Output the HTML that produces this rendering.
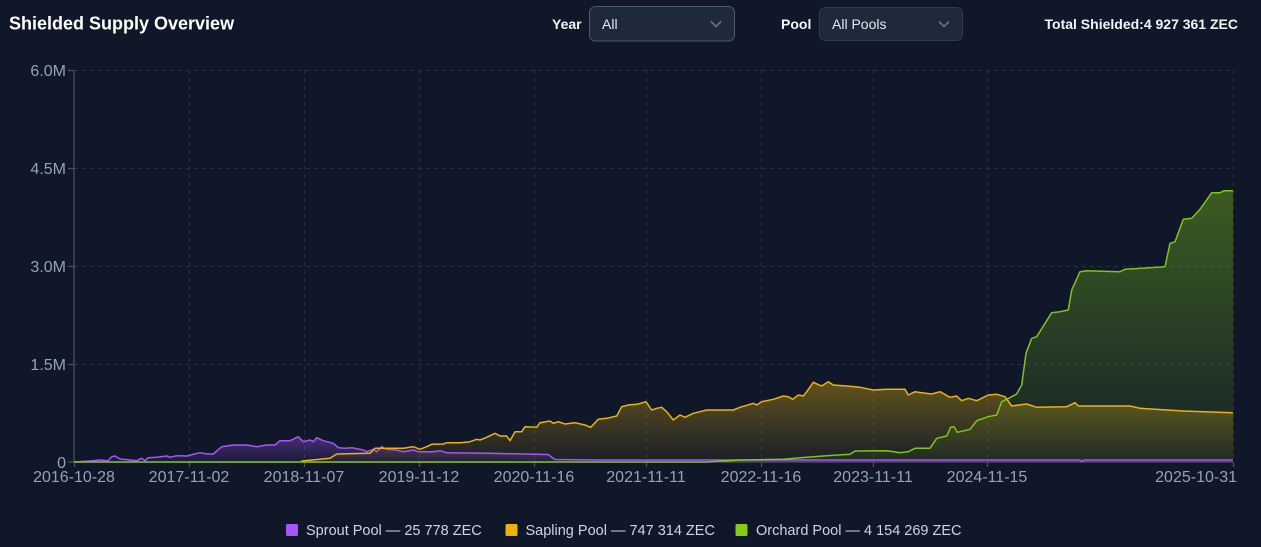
<!DOCTYPE html>
<html><head><meta charset="utf-8"><style>
html,body{margin:0;padding:0;background:#0f1729;width:1261px;height:547px;overflow:hidden}
svg{display:block;font-family:"Liberation Sans",sans-serif}
</style></head><body>
<svg width="1261" height="547" viewBox="0 0 1261 547" xmlns="http://www.w3.org/2000/svg">
<defs>
<linearGradient id="gSp" x1="0" y1="0" x2="0" y2="1"><stop offset="0" stop-color="#a855f7" stop-opacity="0.38"/><stop offset="1" stop-color="#a855f7" stop-opacity="0.06"/></linearGradient>
<linearGradient id="gSa" x1="0" y1="0" x2="0" y2="1"><stop offset="0" stop-color="#eab308" stop-opacity="0.38"/><stop offset="1" stop-color="#eab308" stop-opacity="0.05"/></linearGradient>
<linearGradient id="gOr" x1="0" y1="0" x2="0" y2="1"><stop offset="0" stop-color="#84cc16" stop-opacity="0.38"/><stop offset="1" stop-color="#84cc16" stop-opacity="0.06"/></linearGradient>
</defs>
<rect width="1261" height="547" fill="#0f1729"/>
<!-- header -->
<text x="9" y="29.5" font-size="18" font-weight="bold" fill="#ffffff">Shielded Supply Overview</text>
<text x="552" y="29" font-size="14" font-weight="bold" fill="#f1f5f9">Year</text>
<rect x="589.5" y="6.5" width="145" height="34.5" rx="6" fill="#1e293b" stroke="#4b5a6e" stroke-width="1"/>
<text x="602" y="29" font-size="14" fill="#e2e8f0">All</text>
<polyline points="711,21.5 716,26.5 721,21.5" fill="none" stroke="#64748b" stroke-width="1.6"/>
<text x="781" y="29" font-size="14" font-weight="bold" fill="#f1f5f9">Pool</text>
<rect x="819.5" y="7.5" width="143" height="33" rx="6" fill="#1e293b" stroke="#2e3a4d" stroke-width="1"/>
<text x="832" y="29" font-size="14" fill="#e2e8f0">All Pools</text>
<polyline points="939,21.5 944,26.5 949,21.5" fill="none" stroke="#64748b" stroke-width="1.6"/>
<text x="1238" y="29" font-size="14" font-weight="bold" fill="#f1f5f9" text-anchor="end">Total Shielded:4 927 361 ZEC</text>
<!-- grid -->
<g stroke="#243044" stroke-width="1" stroke-dasharray="4,4">
<line x1="74" y1="70.5" x2="1233" y2="70.5"/>
<line x1="74" y1="168.5" x2="1233" y2="168.5"/>
<line x1="74" y1="266.5" x2="1233" y2="266.5"/>
<line x1="74" y1="364.5" x2="1233" y2="364.5"/>
<line x1="189.5" y1="70" x2="189.5" y2="462"/>
<line x1="304.5" y1="70" x2="304.5" y2="462"/>
<line x1="419.5" y1="70" x2="419.5" y2="462"/>
<line x1="534.5" y1="70" x2="534.5" y2="462"/>
<line x1="646.5" y1="70" x2="646.5" y2="462"/>
<line x1="761.5" y1="70" x2="761.5" y2="462"/>
<line x1="873.5" y1="70" x2="873.5" y2="462"/>
<line x1="987.5" y1="70" x2="987.5" y2="462"/>
<line x1="1233.5" y1="70" x2="1233.5" y2="462"/>
</g>
<!-- axes -->
<g stroke="#4b5563" stroke-width="1.2">
<line x1="74" y1="70" x2="74" y2="462"/>
<line x1="68" y1="70.5" x2="74" y2="70.5"/>
<line x1="68" y1="168.5" x2="74" y2="168.5"/>
<line x1="68" y1="266.5" x2="74" y2="266.5"/>
<line x1="68" y1="364.5" x2="74" y2="364.5"/>
<line x1="68" y1="462" x2="74" y2="462"/>
<line x1="74" y1="462" x2="1233" y2="462"/>
<line x1="74.5" y1="462" x2="74.5" y2="467"/>
<line x1="189.5" y1="462" x2="189.5" y2="467"/>
<line x1="304.5" y1="462" x2="304.5" y2="467"/>
<line x1="419.5" y1="462" x2="419.5" y2="467"/>
<line x1="534.5" y1="462" x2="534.5" y2="467"/>
<line x1="646.5" y1="462" x2="646.5" y2="467"/>
<line x1="761.5" y1="462" x2="761.5" y2="467"/>
<line x1="873.5" y1="462" x2="873.5" y2="467"/>
<line x1="987.5" y1="462" x2="987.5" y2="467"/>
<line x1="1233.5" y1="462" x2="1233.5" y2="467"/>
</g>
<g font-size="16" fill="#94a3b8" text-anchor="end">
<text x="66" y="76">6.0M</text>
<text x="66" y="174">4.5M</text>
<text x="66" y="272">3.0M</text>
<text x="66" y="370">1.5M</text>
<text x="66" y="468">0</text>
</g>
<g font-size="16" fill="#94a3b8" text-anchor="middle">
<text x="74" y="482">2016-10-28</text>
<text x="189" y="482">2017-11-02</text>
<text x="304" y="482">2018-11-07</text>
<text x="419" y="482">2019-11-12</text>
<text x="534" y="482">2020-11-16</text>
<text x="646" y="482">2021-11-11</text>
<text x="761" y="482">2022-11-16</text>
<text x="873" y="482">2023-11-11</text>
<text x="987" y="482">2024-11-15</text>
<text x="1237" y="482" text-anchor="end">2025-10-31</text>
</g>
<!-- sprout -->
<path fill="url(#gSp)" d="M74,462 L90,461 L100,460 L108,460.7 L111.7,456.7 L115,456 L120,459 L130,460 L136.7,460.7 L141.7,458.3 L145,460.7 L148.3,457.7 L156.7,457.3 L166.7,456 L170,457.3 L176.7,455.7 L186.7,456 L200,452.7 L206.7,454 L213.3,454 L221.7,446.7 L233.3,445 L246.7,445 L256.7,446.7 L266.7,445 L275,445 L280,440.7 L290,440.7 L298.3,436.7 L303.3,441.7 L310,440 L313.3,441.7 L316.7,437.7 L323.3,440.7 L333.3,443.3 L338.3,447.7 L345,448.3 L351.7,447.7 L363.3,450 L366.7,451.7 L373.3,449.3 L376.7,451.7 L381.7,446.7 L386.7,449.3 L396.7,450 L403.3,451.7 L413.3,450 L418.3,451.7 L433.3,451.7 L440,450.7 L446.7,452.7 L490,453.3 L548,454.5 L555,459.5 L600,460 L1080,460 L1082,461.5 L1084,460 L1233,460 L1233,462 Z"/>
<!-- sapling -->
<path id="sap" fill="url(#gSa)" d="M74,462 L301.7,462 L302,461 L330,458.3 L336.7,454 L370,453.3 L375,448.3 L403.3,448.3 L413.3,446.7 L420,449.3 L426.7,446.7 L431.7,444.3 L443.3,444 L446.7,442.7 L460,442.7 L470,441.7 L476.7,439.3 L480,440 L486.7,437.3 L495,433.3 L500,436 L506.7,436 L510,440.7 L515,431.7 L521.7,431.7 L525,426.7 L536.7,427.3 L540,422.7 L550,421 L553.3,423.3 L558.3,421.7 L565,424 L575,422.7 L585,425 L590.7,427.3 L598.3,419.3 L606.7,418.3 L616.7,416 L621.7,406.7 L628.3,405 L638.3,404 L646,401.7 L651.7,410 L656.7,408.3 L661.7,407.3 L666.7,411.7 L673.3,420 L680,415 L685,417.3 L693.3,413.3 L706.7,410 L733.3,410 L740,407.3 L753.3,403.3 L756.7,405 L761.7,401.7 L773.3,399.3 L783.3,396 L788.3,396.7 L792.7,399.3 L798.3,395 L803.3,396 L806.7,391.7 L813.3,382.3 L821.7,386 L828.3,381.7 L833.3,385 L846.7,386 L860,387.3 L873.3,390 L886.7,389.3 L905,389.3 L908.3,395 L915,391.7 L921.7,392.7 L931.7,394 L940,391.7 L950,397.3 L956.7,396 L961.7,400.7 L968.3,398.3 L976.7,400.7 L988.3,395 L996.7,394.3 L1005,396.7 L1011.7,406 L1026.7,404 L1036.7,407.3 L1066.7,406.7 L1075,402.7 L1078.3,406 L1130,406 L1140,408.3 L1183.3,411 L1233,412.7 L1233,462 Z"/>
<!-- orchard -->
<path fill="url(#gOr)" d="M74,462 L706,462 L740,460 L783.3,459.3 L806.7,457.3 L826.7,455.7 L850,454.3 L855,451 L886.7,450.7 L900,452.7 L908.3,451.7 L915,448.3 L930,448.3 L936.7,438.3 L946.7,436 L950.7,427.3 L954,426.7 L957.3,432.3 L970,429.3 L976.7,420.7 L988.3,416.7 L996.7,415 L1001.7,401.7 L1006.7,399.3 L1016.7,394 L1021.7,385 L1026,353.3 L1031.7,338.3 L1036.7,336.7 L1051.7,312.7 L1060,311.7 L1068.3,310 L1071.7,290 L1080,271.7 L1086.7,270.7 L1120,271.7 L1125,269.3 L1165,266.7 L1170,243.3 L1175,241.7 L1183.3,219.3 L1191.7,218.3 L1200,209.3 L1211.7,192.7 L1220,192.7 L1224,190.7 L1233,190.7 L1233,462 Z"/>
<!-- lines -->
<polyline fill="none" stroke="#a855f7" stroke-width="1.5" stroke-linejoin="round" points="74,462 90,461 100,460 108,460.7 111.7,456.7 115,456 120,459 130,460 136.7,460.7 141.7,458.3 145,460.7 148.3,457.7 156.7,457.3 166.7,456 170,457.3 176.7,455.7 186.7,456 200,452.7 206.7,454 213.3,454 221.7,446.7 233.3,445 246.7,445 256.7,446.7 266.7,445 275,445 280,440.7 290,440.7 298.3,436.7 303.3,441.7 310,440 313.3,441.7 316.7,437.7 323.3,440.7 333.3,443.3 338.3,447.7 345,448.3 351.7,447.7 363.3,450 366.7,451.7 373.3,449.3 376.7,451.7 381.7,446.7 386.7,449.3 396.7,450 403.3,451.7 413.3,450 418.3,451.7 433.3,451.7 440,450.7 446.7,452.7 490,453.3 548,454.5 555,459.5 600,460 1080,460 1082,461.5 1084,460 1233,460"/>
<polyline fill="none" stroke="#eab308" stroke-width="1.5" stroke-linejoin="round" points="301.7,462 302,461 330,458.3 336.7,454 370,453.3 375,448.3 403.3,448.3 413.3,446.7 420,449.3 426.7,446.7 431.7,444.3 443.3,444 446.7,442.7 460,442.7 470,441.7 476.7,439.3 480,440 486.7,437.3 495,433.3 500,436 506.7,436 510,440.7 515,431.7 521.7,431.7 525,426.7 536.7,427.3 540,422.7 550,421 553.3,423.3 558.3,421.7 565,424 575,422.7 585,425 590.7,427.3 598.3,419.3 606.7,418.3 616.7,416 621.7,406.7 628.3,405 638.3,404 646,401.7 651.7,410 656.7,408.3 661.7,407.3 666.7,411.7 673.3,420 680,415 685,417.3 693.3,413.3 706.7,410 733.3,410 740,407.3 753.3,403.3 756.7,405 761.7,401.7 773.3,399.3 783.3,396 788.3,396.7 792.7,399.3 798.3,395 803.3,396 806.7,391.7 813.3,382.3 821.7,386 828.3,381.7 833.3,385 846.7,386 860,387.3 873.3,390 886.7,389.3 905,389.3 908.3,395 915,391.7 921.7,392.7 931.7,394 940,391.7 950,397.3 956.7,396 961.7,400.7 968.3,398.3 976.7,400.7 988.3,395 996.7,394.3 1005,396.7 1011.7,406 1026.7,404 1036.7,407.3 1066.7,406.7 1075,402.7 1078.3,406 1130,406 1140,408.3 1183.3,411 1233,412.7"/>
<polyline fill="none" stroke="#84cc16" stroke-width="1.5" stroke-linejoin="round" opacity="0.95" points="74,462 706,462 740,460 783.3,459.3 806.7,457.3 826.7,455.7 850,454.3 855,451 886.7,450.7 900,452.7 908.3,451.7 915,448.3 930,448.3 936.7,438.3 946.7,436 950.7,427.3 954,426.7 957.3,432.3 970,429.3 976.7,420.7 988.3,416.7 996.7,415 1001.7,401.7 1006.7,399.3 1016.7,394 1021.7,385 1026,353.3 1031.7,338.3 1036.7,336.7 1051.7,312.7 1060,311.7 1068.3,310 1071.7,290 1080,271.7 1086.7,270.7 1120,271.7 1125,269.3 1165,266.7 1170,243.3 1175,241.7 1183.3,219.3 1191.7,218.3 1200,209.3 1211.7,192.7 1220,192.7 1224,190.7 1233,190.7"/>
<!-- legend -->
<rect x="286" y="524" width="12" height="12" rx="1.5" fill="#a855f7"/>
<text x="306" y="535" font-size="14.5" fill="#cbd5e1">Sprout Pool — 25 778 ZEC</text>
<rect x="505.5" y="524" width="12" height="12" rx="1.5" fill="#eab308"/>
<text x="525.5" y="535" font-size="14.5" fill="#cbd5e1">Sapling Pool — 747 314 ZEC</text>
<rect x="735.5" y="524" width="12" height="12" rx="1.5" fill="#84cc16"/>
<text x="756" y="535" font-size="14.5" fill="#cbd5e1">Orchard Pool — 4 154 269 ZEC</text>
</svg>
</body></html>
